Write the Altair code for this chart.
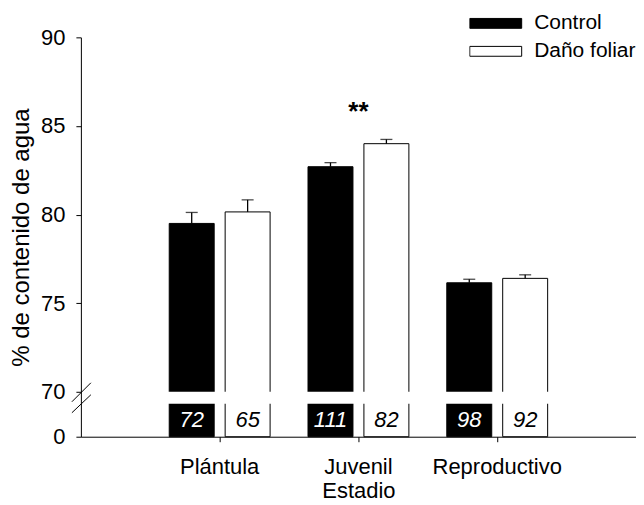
import altair as alt
import pandas as pd

stages = ["Plántula", "Juvenil", "Reproductivo"]
groups = ["Control", "Daño foliar"]
control_mean = [79.5, 82.7, 76.15]
control_se = [0.62, 0.23, 0.2]
dano_mean = [80.15, 84.0, 76.4]
dano_se = [0.68, 0.24, 0.2]
control_n = [72, 111, 98]
dano_n = [65, 82, 92]
y_ticks = [0, 70, 75, 80, 85, 90]
break_lo = 10   # value just below the axis break (lower segment top)
break_hi = 70   # value just above the axis break
sig_stage = ["Juvenil"]
sig_label = ["**"]
sig_y = [85.8]

rows = []
for i, s in enumerate(stages):
    rows.append(dict(stage=s, group=groups[0], mean=control_mean[i],
                     top=control_mean[i] + control_se[i], n=control_n[i]))
    rows.append(dict(stage=s, group=groups[1], mean=dano_mean[i],
                     top=dano_mean[i] + dano_se[i], n=dano_n[i]))
df = pd.DataFrame(rows)
df["zero"] = 0
df["blo"] = break_lo
df["bhi"] = break_hi
df["bmid"] = (break_lo + break_hi) / 2
df["nmid"] = break_lo / 2

sig = pd.DataFrame({"stage": sig_stage, "label": sig_label, "y": sig_y})

FONT = "Liberation Sans"

yscale = alt.Scale(domain=[0, break_lo, break_hi, 90], range=[400, 367, 355, 0],
                   nice=False, zero=False)
yaxis = alt.Axis(values=y_ticks, title="% de contenido de agua", grid=False,
                 tickSize=5, labelPadding=11, titlePadding=7, labelFontSize=22,
                 titleFontSize=24, titleFontWeight="normal")
xscale = alt.Scale(paddingInner=0, paddingOuter=0.5)
xaxis = alt.Axis(title="Estadio", labelAngle=0, tickSize=5, labelPadding=15,
                 titlePadding=3, labelFontSize=22, titleFontSize=22,
                 titleFontWeight="normal", grid=False)
xoff = alt.XOffset("group:N", sort=groups,
                   scale=alt.Scale(paddingInner=0.196, paddingOuter=0.339))
legend = alt.Legend(title=None, orient="none", legendX=389, legendY=-26,
                    symbolType="M-1,-0.19L1,-0.19L1,0.19L-1,0.19Z",
                    symbolSize=2704, symbolStrokeColor="black",
                    symbolStrokeWidth=1, labelFontSize=21,
                    labelOffset=12, clipHeight=24, rowPadding=4,
                    padding=0, labelFont=FONT, labelColor="black")


def X():
    return alt.X("stage:N", sort=stages, scale=xscale, axis=xaxis)


def Y(field):
    return alt.Y(field, type="quantitative", scale=yscale, axis=yaxis)


def C():
    return alt.Color("group:N", sort=groups,
                     scale=alt.Scale(domain=groups, range=["black", "white"]),
                     legend=legend)


base = alt.Chart(df)

# upper part of each bar: its lower end lies hidden inside the break
upper = base.mark_bar(stroke="black", strokeWidth=1).encode(
    x=X(), xOffset=xoff, y=Y("mean"), y2="bmid", color=C())

# lower part of each bar: its upper end lies hidden inside the break
lower = base.mark_bar(stroke="black", strokeWidth=1).encode(
    x=X(), xOffset=xoff, y=Y("bmid"), y2="zero", color=C())

gap = base.mark_bar(color="white", width=50).encode(
    x=X(), xOffset=xoff, y=Y("blo"), y2="bhi")

err = base.mark_rule(color="black", strokeWidth=1.3).encode(
    x=X(), xOffset=xoff, y=Y("mean"), y2="top")

caps = base.mark_tick(color="black", thickness=1.3, size=12).encode(
    x=X(), xOffset=xoff, y=Y("top"))

ntext = base.mark_text(font=FONT, fontSize=22, fontStyle="italic", baseline="middle").encode(
    x=X(), xOffset=xoff, y=Y("nmid"), text="n:Q",
    color=alt.condition("datum.group === 'Control'", alt.value("white"), alt.value("black")))

sigtext = alt.Chart(sig).mark_text(font=FONT, fontSize=26, fontWeight="bold",
                                   baseline="middle", color="black").encode(
    x=X(), y=Y("y"), text="label:N")

slash1 = alt.Chart(sig).mark_rule(color="black", strokeWidth=1).encode(
    x=alt.value(-9), x2=alt.value(10), y=alt.value(365), y2=alt.value(346))
slash2 = alt.Chart(sig).mark_rule(color="black", strokeWidth=1).encode(
    x=alt.value(-9), x2=alt.value(10), y=alt.value(376), y2=alt.value(358))

chart = alt.layer(lower, upper, gap, err, caps, ntext, sigtext, slash1, slash2).properties(
    width=556, height=400,
    autosize=alt.AutoSizeParams(type="none"),
    padding={"left": 73, "top": 29, "right": 0, "bottom": 68},
).configure_view(stroke=None).configure_axis(
    domainColor="black", tickColor="black", labelColor="black", titleColor="black",
    labelFont=FONT, titleFont=FONT, domainWidth=1, tickWidth=1,
).configure_text(font=FONT)

chart.save("out.html", embed_options={"renderer": "svg", "actions": False})
